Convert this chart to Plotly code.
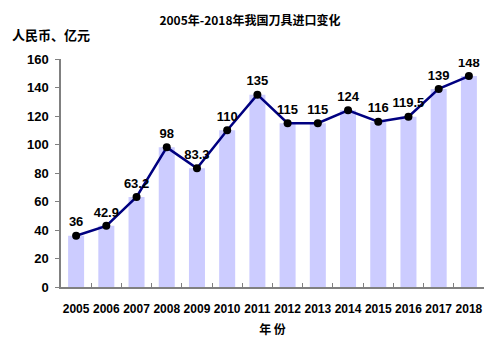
import plotly.graph_objects as go

# 2005-2018 tool imports (100 million RMB)
years = ["2005", "2006", "2007", "2008", "2009", "2010", "2011",
         "2012", "2013", "2014", "2015", "2016", "2017", "2018"]
values = [36, 42.9, 63.2, 98, 83.3, 110, 135, 115, 115, 124, 116, 119.5, 139, 148]
y_ticks = [0, 20, 40, 60, 80, 100, 120, 140, 160]

label_font = dict(family="Liberation Sans, Arial, sans-serif", size=12, color="#000000")
cjk_font = "Noto Sans CJK SC, sans-serif"

fig = go.Figure()

fig.add_trace(go.Bar(
    x=years, y=values,
    marker=dict(color="#ccccff", line=dict(width=0)),
    width=0.53,
    hoverinfo="skip",
))

fig.add_trace(go.Scatter(
    x=years, y=values,
    mode="lines+markers+text",
    line=dict(color="#000080", width=2.5),
    marker=dict(color="#000000", size=8),
    text=[f"<b>{v:g}</b>" for v in values],
    textposition="top center",
    textfont=dict(family=label_font["family"], size=13, color="#000000"),
))

fig.update_layout(
    width=500, height=346,
    margin=dict(l=61, r=16, t=59, b=59),
    paper_bgcolor="white", plot_bgcolor="white",
    showlegend=False,
    bargap=0.47,
    title=dict(
        text="<b>2005年-2018年我国刀具进口变化</b>",
        x=0.5, xanchor="center", y=0.94, yanchor="middle",
        font=dict(family=cjk_font, size=12, color="#000000"),
    ),
    xaxis=dict(
        type="category",
        range=[-0.5, 13.5],
        showline=True, linecolor="#808080", linewidth=1.5,
        ticks="inside", ticklen=4, tickcolor="#808080",
        tickson="boundaries",
        tickangle=0,
        ticklabelstandoff=10,
        showgrid=False, zeroline=False,
        tickfont=dict(family=label_font["family"], size=12, color="#000000"),
        tickprefix="<b>", ticksuffix="</b>",
        title=dict(text="<b>年 份</b>", font=dict(family=cjk_font, size=12, color="#000000"), standoff=10),
    ),
    yaxis=dict(
        range=[0, 160],
        tickvals=y_ticks,
        ticktext=[f"<b>{t}</b>" for t in y_ticks],
        showline=True, linecolor="#808080", linewidth=1.5,
        ticks="outside", ticklen=4, tickcolor="#808080",
        showgrid=False, zeroline=False,
        tickfont=dict(family=label_font["family"], size=13, color="#000000"),
        ticklabelstandoff=4,
    ),
    annotations=[dict(
        text="<b>人民币、亿元</b>",
        xref="paper", yref="paper",
        x=-0.12, y=1.055, xanchor="left", yanchor="bottom",
        showarrow=False,
        font=dict(family=cjk_font, size=13, color="#000000"),
    )],
)

fig.write_html("out.html")
